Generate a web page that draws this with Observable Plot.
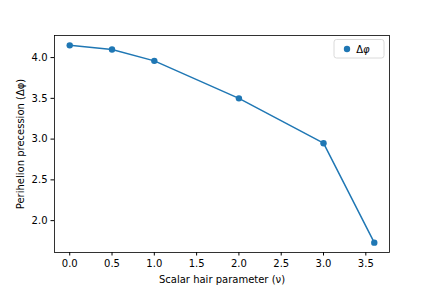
<!DOCTYPE html>
<html>
<head>
<meta charset="utf-8">
<script src="https://cdn.jsdelivr.net/npm/d3@7"></script>
<script src="https://cdn.jsdelivr.net/npm/@observablehq/plot@0.6"></script>
<style>
  html, body { margin: 0; padding: 0; background: #fff; }
  svg { font-family: "DejaVu Sans", sans-serif; }
</style>
</head>
<body>
<div id="chart"></div>
<script>
const nu = [0.0, 0.5, 1.0, 2.0, 3.0, 3.6];
const dphi = [4.15, 4.10, 3.96, 3.50, 2.95, 1.73];
const xTicks = [0, 0.5, 1.0, 1.5, 2.0, 2.5, 3.0, 3.5];
const yTicks = [2.0, 2.5, 3.0, 3.5, 4.0];
const legendParts = ["Δ", "φ"];
const color = "#1f77b4";

const data = nu.map((v, i) => ({nu: v, dphi: dphi[i]}));

const chart = Plot.plot({
  width: 432,
  height: 288,
  marginLeft: 54,
  marginRight: 43,
  marginTop: 35,
  marginBottom: 36,
  style: {fontFamily: "DejaVu Sans, sans-serif", fontSize: "10px", color: "#000", background: "#fff"},
  x: {domain: [-0.18, 3.78], ticks: xTicks, tickFormat: d3.format(".1f")},
  y: {domain: [1.609, 4.271], ticks: yTicks, tickFormat: d3.format(".1f")},
  marks: [
    Plot.axisX({ticks: xTicks, tickFormat: d3.format(".1f"), tickSize: 3.5, tickPadding: 3.5, fontSize: 10,
      label: "Scalar hair parameter (ν)", labelAnchor: "center", labelArrow: "none", labelOffset: 30}),
    Plot.axisY({ticks: yTicks, tickFormat: d3.format(".1f"), tickSize: 3.5, tickPadding: 3.5, fontSize: 10,
      label: "Perihelion precession (Δφ)", labelAnchor: "center", labelArrow: "none", labelOffset: 38}),
    Plot.line(data, {x: "nu", y: "dphi", stroke: color, strokeWidth: 1.5}),
    Plot.dot(data, {x: "nu", y: "dphi", fill: color, r: 3.2}),
    Plot.frame({stroke: "#000", strokeWidth: 0.8})
  ]
});
document.getElementById("chart").appendChild(chart);

// legend
const svg = d3.select(chart);
const lg = svg.append("g");
lg.append("rect").attr("x", 334).attr("y", 39.5).attr("width", 50).attr("height", 18.5)
  .attr("rx", 2.5).attr("fill", "#fff").attr("stroke", "#d0d0d0").attr("stroke-width", 0.8);
lg.append("circle").attr("cx", 347).attr("cy", 49).attr("r", 3.2).attr("fill", color);
const t = lg.append("text").attr("x", 363).attr("y", 49).attr("dy", "0.35em")
  .attr("font-size", 10).attr("fill", "#000");
t.append("tspan").text(legendParts[0]);
t.append("tspan").attr("font-style", "italic").text(legendParts[1]);
</script>
</body>
</html>
